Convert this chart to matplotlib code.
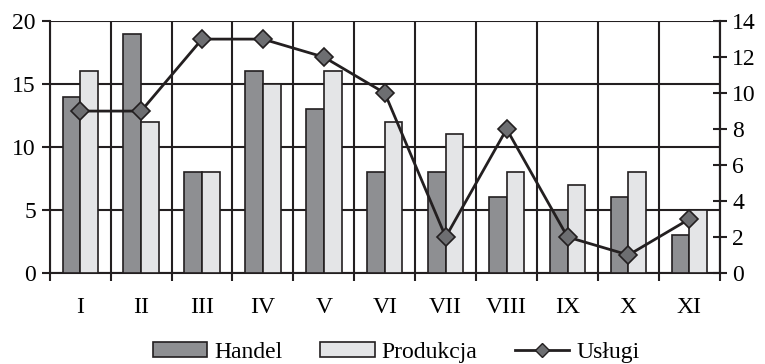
import numpy as np
import matplotlib.pyplot as plt
from matplotlib.lines import Line2D
from matplotlib.patches import Patch

plt.rcParams['font.family'] = ['Liberation Serif', 'DejaVu Serif']

months = ["I", "II", "III", "IV", "V", "VI", "VII", "VIII", "IX", "X", "XI"]
handel = [14, 19, 8, 16, 13, 8, 8, 6, 5, 6, 3]
produkcja = [16, 12, 8, 15, 16, 12, 11, 8, 7, 8, 5]
uslugi = [9, 9, 13, 13, 12, 10, 2, 8, 2, 1, 3]

dark = "#8e8f92"
light = "#e4e5e7"
ink = "#231f20"

fig = plt.figure(figsize=(7.65, 3.64), dpi=100)
ax = fig.add_axes([0.065, 0.25, 0.876, 0.692])
ax2 = ax.twinx()

x = np.arange(len(months))
w = 0.29
ax.bar(x - w / 2, handel, w, color=dark, edgecolor=ink, linewidth=1.2, zorder=3)
ax.bar(x + w / 2, produkcja, w, color=light, edgecolor=ink, linewidth=1.2, zorder=3)

ax.set_xlim(-0.5, len(months) - 0.5)
ax.set_ylim(0, 20)
ax.set_yticks([0, 5, 10, 15, 20])
ax.set_xticks(x)
ax.set_xticklabels(months)
ax.set_xticks(np.arange(-0.5, len(months)), minor=True)
ax.tick_params(axis='x', which='major', length=0, pad=17, labelsize=17)
ax.tick_params(axis='x', which='minor', length=6, width=1.5, direction='out', color=ink)
ax.tick_params(axis='y', length=6, width=1.5, direction='out', labelsize=17, color=ink, pad=4)
ax.grid(True, axis='y', color=ink, linewidth=1.5, zorder=0)
ax.grid(True, axis='x', which='minor', color=ink, linewidth=1.5, zorder=0)
ax.set_axisbelow(True)
for s in ax.spines.values():
    s.set_color(ink)
    s.set_linewidth(1.5)
ax.spines['top'].set_visible(False)

ax2.plot(x, uslugi, color=ink, linewidth=2, marker='D', markersize=9,
         markerfacecolor="#6d6e71", markeredgecolor=ink, markeredgewidth=1.2, zorder=5)
ax2.set_ylim(0, 14)
ax2.set_yticks(range(0, 15, 2))
ax2.tick_params(axis='y', length=10, width=1.5, direction='inout', labelsize=17, color=ink, pad=4)
for s in ax2.spines.values():
    s.set_color(ink)
    s.set_linewidth(1.5)
ax2.spines['top'].set_visible(False)
ax2.spines['left'].set_visible(False)
ax2.spines['bottom'].set_visible(False)

handles = [
    Patch(facecolor=dark, edgecolor=ink, linewidth=1.2),
    Patch(facecolor=light, edgecolor=ink, linewidth=1.2),
    Line2D([0], [0], color=ink, linewidth=2, marker='D', markersize=7,
           markerfacecolor="#6d6e71", markeredgecolor=ink),
]
fig.legend(handles, ["Handel", "Produkcja", "Usługi"], loc='center',
           bbox_to_anchor=(0.518, 0.032), ncol=3, frameon=False, fontsize=17,
           handlelength=2.3, handleheight=0.55, handletextpad=0.3, columnspacing=1.6,
           borderpad=0)

fig.savefig("out.png", dpi=100)
